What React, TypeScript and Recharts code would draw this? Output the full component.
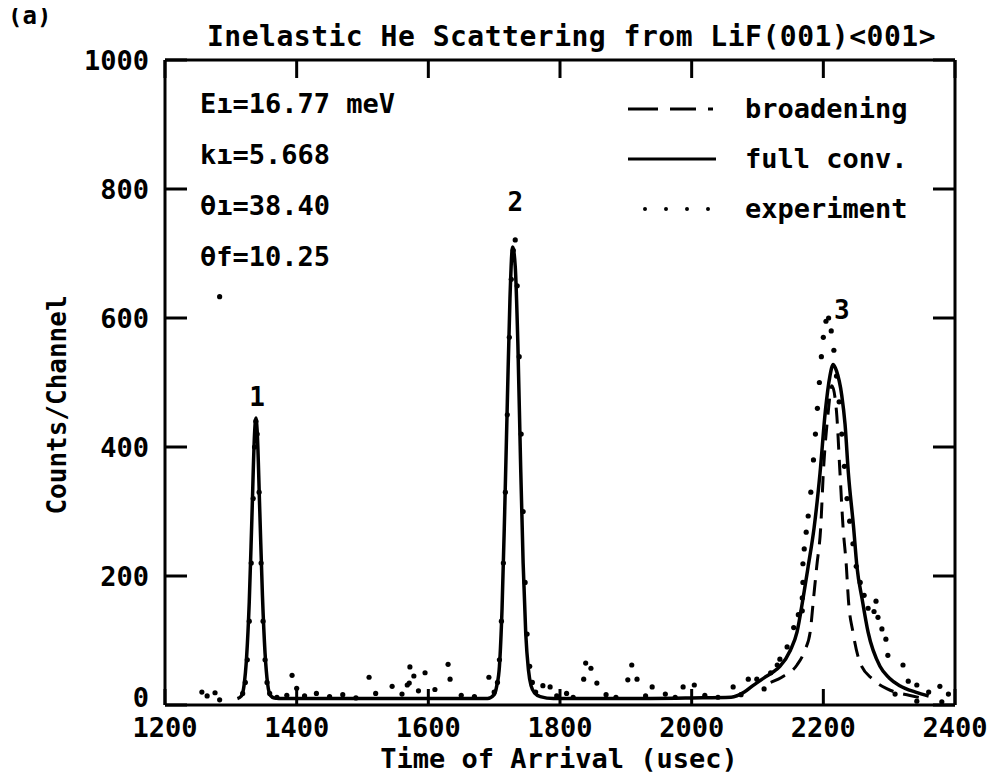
import { ComposedChart, Line, Scatter, XAxis, YAxis, ReferenceDot } from "recharts";

const xTicks = [1200, 1400, 1600, 1800, 2000, 2200, 2400];
const yTicks = [0, 200, 400, 600, 800, 1000];

// full convolution (solid)
const solidTime = [
  1310, 1316, 1320, 1324, 1328, 1332, 1336, 1338, 1340, 1344, 1348, 1352, 1356, 1360, 1366, 1380,
  1500, 1600, 1690, 1700, 1704, 1708, 1712, 1716, 1720, 1724, 1728, 1732, 1736, 1740, 1744, 1748,
  1752, 1756, 1762, 1770, 1790, 1900, 2000, 2060, 2080, 2093, 2110, 2125, 2134, 2150, 2160, 2169,
  2177, 2186, 2195, 2203, 2210, 2215, 2220, 2228, 2233, 2238, 2246, 2251, 2259, 2268, 2286, 2300,
  2316, 2340, 2360,
];
const solidCounts = [
  10, 14, 30, 75, 160, 290, 420, 445, 425, 300, 170, 80, 32, 15, 11, 10,
  10, 10, 10, 16, 30, 60, 150, 300, 470, 630, 710, 680, 560, 380, 220, 110,
  55, 30, 18, 13, 10, 10, 11, 12, 20, 30, 42, 52, 60, 85, 113, 164,
  215, 275, 360, 455, 510, 528, 518, 480, 435, 360, 275, 215, 164, 113, 60, 42,
  30, 20, 14,
];

// broadening (dashed)
const dashTime = [
  2120, 2140, 2160, 2172, 2180, 2185, 2190, 2196, 2200, 2207, 2213, 2220, 2225, 2230, 2235, 2238,
  2245, 2256, 2275, 2297, 2330, 2355,
];
const dashCounts = [
  35, 45, 62, 85, 113, 164, 215, 275, 360, 450, 495, 455, 365, 275, 215, 164,
  113, 65, 40, 25, 15, 10,
];

// experiment (dots)
const expTime = [
  1256, 1264, 1276, 1283, 1283,
  1318, 1322, 1325, 1328, 1331, 1334, 1336, 1338, 1340, 1343, 1346, 1349, 1352, 1355, 1359,
  1370, 1385, 1393, 1400, 1412, 1430, 1450, 1470, 1490, 1510, 1520, 1545, 1560, 1568, 1571, 1572,
  1578, 1585, 1595, 1610, 1630, 1633, 1650, 1670, 1692, 1700,
  1705, 1708, 1711, 1714, 1717, 1720, 1723, 1726, 1729, 1732, 1735, 1738, 1741, 1744, 1747, 1750,
  1754, 1758, 1763,
  1774, 1785, 1795, 1810, 1820, 1836, 1839, 1847, 1856, 1870, 1885, 1903, 1909, 1917, 1930, 1940,
  1960, 1975, 1987, 2004, 2020, 2040, 2063, 2075, 2086, 2099, 2110, 2120, 2130, 2134, 2145,
  2155, 2162, 2168, 2168, 2169, 2169, 2171, 2174, 2177, 2181, 2185, 2188, 2191, 2194, 2197, 2200,
  2204, 2208, 2212, 2216, 2220, 2224, 2228, 2232, 2236, 2240, 2245, 2250, 2256, 2262, 2268, 2277,
  2280, 2283, 2289, 2295, 2298, 2309, 2321, 2329, 2342, 2342, 2360, 2377, 2380, 2390,
];
const expCounts = [
  20, 14, 19, 8, 633,
  18, 35, 70, 130, 220, 320, 400, 440, 420, 330, 220, 130, 70, 35, 18,
  12, 15, 46, 26, 14, 18, 13, 16, 11, 43, 18, 29, 17, 31, 34, 59,
  45, 22, 50, 24, 63, 40, 15, 13, 43, 20,
  35, 70, 130, 220, 330, 450, 570, 660, 705, 721, 650, 540, 420, 300, 190, 110,
  60, 35, 20,
  30, 28, 14, 18, 12, 40, 65, 57, 34, 16, 12, 39, 62, 40, 14, 28,
  17, 12, 28, 31, 15, 12, 28, 16, 40, 40, 25, 50, 62, 71, 90,
  120, 140, 146, 166, 190, 219, 242, 268, 293, 330, 380, 420, 460, 500, 540, 570,
  595, 600, 580, 550, 510, 470, 420, 370, 320, 285, 250, 215, 190, 170, 150, 145,
  161, 136, 118, 102, 77, 17, 62, 37, 31, 6, 20, 29, 5, 17,
];

const peakNames = ["1", "2", "3"];
const peakTime = [1340, 1732, 2228];
const peakCounts = [478, 780, 612];

const params = ["E\u0131=16.77 meV", "k\u0131=5.668", "\u03b8\u0131=38.40", "\u03b8f=10.25"];
const legendNames = ["broadening", "full conv.", "experiment"];

const solid = solidTime.map((t, i) => ({ t, c: solidCounts[i] }));
const dashed = dashTime.map((t, i) => ({ t, c: dashCounts[i] }));
const experiment = expTime.map((t, i) => ({ t, c: expCounts[i] }));

const FONT = "'DejaVu Sans Mono', monospace";
const txt = { fontFamily: FONT, fontWeight: 700, fill: "#000" };
const frame = { stroke: "#000", strokeWidth: 3 };
const noLabel = () => <g />;

function LegendBox() {
  return (
    <svg width={340} height={150} style={{ display: "block" }}>
      <line x1={8} x2={100} y1={19} y2={19} stroke="#000" strokeWidth={3} strokeDasharray="30 12 26 12 5 100" />
      <text x={125} y={28} fontSize={27} {...txt}>{legendNames[0]}</text>
      <line x1={8} x2={96} y1={69} y2={69} stroke="#000" strokeWidth={3} />
      <text x={125} y={78} fontSize={27} {...txt}>{legendNames[1]}</text>
      <line x1={25} x2={95} y1={119} y2={119} stroke="#000" strokeWidth={4} strokeLinecap="round" strokeDasharray="0 21" />
      <text x={125} y={128} fontSize={27} {...txt}>{legendNames[2]}</text>
    </svg>
  );
}

function YTick(props: any) {
  const { x, y, payload } = props;
  // the plotter lifts the "0" label clear of the x-axis labels
  const dy = payload.value === 0 ? -8 : 0;
  return (
    <text x={x} y={y + dy} dy="0.36em" textAnchor="end" fontSize={27} {...txt}>
      {payload.value}
    </text>
  );
}

export default function App() {
  return (
    <div style={{ position: "relative", width: 999, height: 783, margin: -8, background: "#fff", overflow: "hidden" }}>
      <div style={{ position: "absolute", left: 8, top: 2, font: `700 24px ${FONT}` }}>(a)</div>
      <div style={{ position: "absolute", left: 938, top: -22, font: `700 26px ${FONT}` }}>Figure</div>
      <div style={{ position: "absolute", left: 207, top: 20, font: `700 28px ${FONT}`, letterSpacing: 0.5, whiteSpace: "nowrap" }}>
        Inelastic He Scattering from LiF(001)&lt;001&gt;
      </div>
      <div style={{ position: "absolute", left: 200, top: 78, font: `700 27px ${FONT}`, lineHeight: "51px", zIndex: 2 }}>
        {params.map((p) => (
          <div key={p}>{p}</div>
        ))}
      </div>
      <div style={{ position: "absolute", left: 620, top: 90, zIndex: 2 }}>
        <LegendBox />
      </div>
      <ComposedChart width={999} height={783} margin={{ top: 60, right: 44, bottom: 0, left: 0 }}>
        <XAxis
          xAxisId="x"
          dataKey="t"
          type="number"
          domain={[1200, 2400]}
          ticks={xTicks}
          allowDataOverflow
          height={78}
          tickSize={0}
          tickMargin={13}
          tickLine={false}
          axisLine={frame}
          tick={{ ...txt, fontSize: 27 }}
          label={() => (
            <text x={559} y={768} textAnchor="middle" fontSize={27} {...txt}>
              Time of Arrival (usec)
            </text>
          )}
        />
        <XAxis xAxisId="xb" dataKey="t" type="number" domain={[1200, 2400]} ticks={xTicks} allowDataOverflow mirror tick={noLabel} tickSize={16} axisLine={false} tickLine={frame} />
        <XAxis xAxisId="xt" orientation="top" dataKey="t" type="number" domain={[1200, 2400]} ticks={xTicks} allowDataOverflow mirror tick={noLabel} tickSize={18} axisLine={frame} tickLine={frame} />
        <YAxis
          yAxisId="y"
          type="number"
          domain={[0, 1000]}
          ticks={yTicks}
          allowDataOverflow
          width={165}
          tickSize={0}
          tickMargin={16}
          tickLine={false}
          axisLine={frame}
          tick={<YTick />}
          label={() => (
            <text transform="translate(66, 405) rotate(-90)" textAnchor="middle" fontSize={26} {...txt}>
              Counts/Channel
            </text>
          )}
        />
        <YAxis yAxisId="yl" type="number" domain={[0, 1000]} ticks={yTicks} allowDataOverflow mirror tick={noLabel} tickSize={22} axisLine={false} tickLine={frame} />
        <YAxis yAxisId="yr" orientation="right" type="number" domain={[0, 1000]} ticks={yTicks} allowDataOverflow mirror tick={noLabel} tickSize={22} axisLine={frame} tickLine={frame} />
        <Line xAxisId="x" yAxisId="y" data={dashed} dataKey="c" type="monotone" stroke="#000" strokeWidth={3} strokeDasharray="16 10" dot={false} isAnimationActive={false} />
        <Line xAxisId="x" yAxisId="y" data={solid} dataKey="c" type="monotone" stroke="#000" strokeWidth={3.5} dot={false} isAnimationActive={false} />
        <Scatter
          xAxisId="x"
          yAxisId="y"
          data={experiment}
          dataKey="c"
          isAnimationActive={false}
          shape={(p: any) => <circle cx={p.cx} cy={p.cy} r={2.6} fill="#000" />}
        />
        {peakNames.map((n, i) => (
          <ReferenceDot
            key={n}
            xAxisId="x"
            yAxisId="y"
            x={peakTime[i]}
            y={peakCounts[i]}
            r={0}
            stroke="none"
            label={{ value: n, position: "center", fontSize: 26, fontFamily: FONT, fontWeight: 700, fill: "#000" }}
          />
        ))}
      </ComposedChart>
    </div>
  );
}
